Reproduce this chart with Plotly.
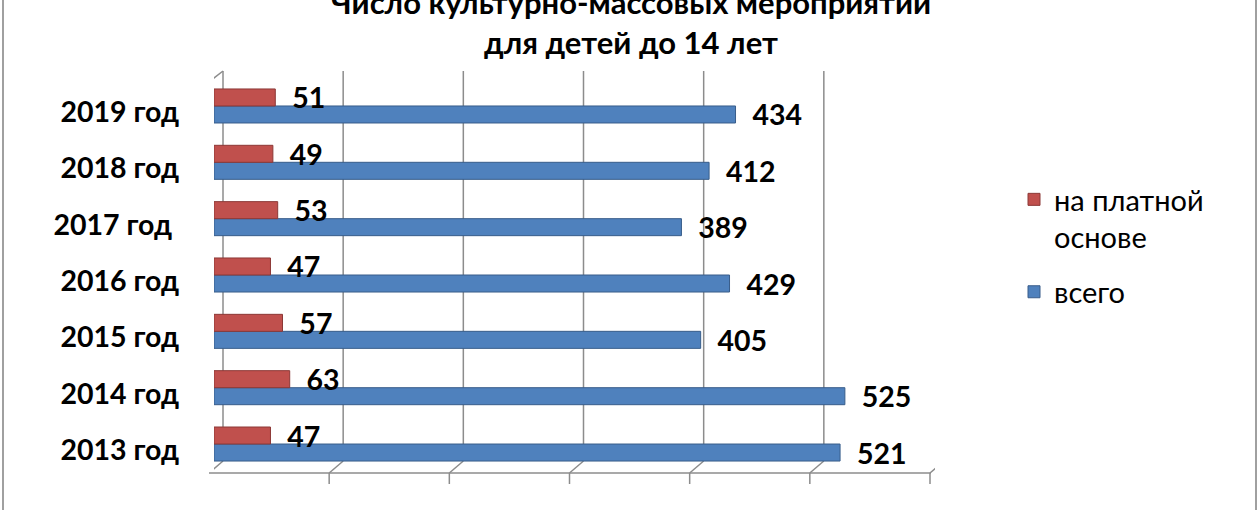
import plotly.graph_objects as go

W, H = 1260, 510

categories = ["2013 год", "2014 год", "2015 год", "2016 год", "2017 год\u00a0", "2018 год", "2019 год"]
paid = [47, 63, 57, 47, 53, 49, 51]
total = [521, 525, 405, 429, 389, 412, 434]
series_names = ["на платной<br>основе", "всего"]
x_ticks = [0, 100, 200, 300, 400, 500, 600]
title_text = "Число культурно-массовых мероприятий<br>для детей до 14 лет"

RED = "#C0504D"
BLUE = "#4F81BD"
GRID = "#8C8C8C"
FONT = "Lato"


def py(p):
    return 1 - p / H


def px(p):
    return p / W


fig = go.Figure()
fig.add_trace(go.Bar(
    y=categories, x=total, orientation="h", name=series_names[1], legendgroup="b", legendrank=2,
    marker=dict(color=BLUE, line=dict(color="#385D8A", width=1)),
    text=["\u00a0\u00a0" + str(v) for v in total], textposition="outside",
    constraintext="none", cliponaxis=False,
    textfont=dict(family=FONT, size=28.5, color="#000000", weight="bold"),
))
fig.add_trace(go.Bar(
    y=categories, x=paid, orientation="h", name=series_names[0], legendgroup="a", legendrank=1,
    marker=dict(color=RED, line=dict(color="#8C3836", width=1)),
    text=["\u00a0\u00a0" + str(v) for v in paid], textposition="outside",
    constraintext="none", cliponaxis=False,
    textfont=dict(family=FONT, size=28.5, color="#000000", weight="bold"),
))

shapes = []
line_style = dict(color=GRID, width=1.5)
back_top, back_bot, front_bot, front_top, tick_bot = 71, 461, 473, 82, 484
BACK, FRONT = 9, -5
for v in x_ticks:
    # back wall gridline
    shapes.append(dict(type="line", xref="x", xsizemode="pixel", xanchor=v, x0=BACK, x1=BACK,
                       yref="paper", y0=py(back_bot), y1=py(back_top), line=line_style, layer="below"))
    # floor diagonal
    shapes.append(dict(type="line", xref="x", xsizemode="pixel", xanchor=v, x0=BACK, x1=FRONT,
                       yref="paper", y0=py(back_bot), y1=py(front_bot), line=line_style, layer="below"))
    # tick mark
    shapes.append(dict(type="line", xref="x", xsizemode="pixel", xanchor=v, x0=FRONT, x1=FRONT,
                       yref="paper", y0=py(front_bot), y1=py(tick_bot), line=line_style, layer="below"))
# front-left edge and its top diagonal
shapes.append(dict(type="line", xref="x", xsizemode="pixel", xanchor=x_ticks[0], x0=FRONT, x1=FRONT,
                   yref="paper", y0=py(front_bot), y1=py(front_top), line=line_style, layer="below"))
shapes.append(dict(type="line", xref="x", xsizemode="pixel", xanchor=x_ticks[0], x0=FRONT, x1=BACK,
                   yref="paper", y0=py(front_top), y1=py(back_top), line=line_style, layer="below"))
# front floor line
shapes.append(dict(type="line", xref="paper", x0=px(209), x1=px(931),
                   yref="paper", y0=py(front_bot), y1=py(front_bot), line=line_style, layer="below"))
# chart border (left/right)
for bx in (3, 1256):
    shapes.append(dict(type="line", xref="paper", x0=px(bx), x1=px(bx), yref="paper", y0=0, y1=1,
                       line=dict(color="#A0A0A0", width=2)))

fig.update_layout(
    width=W, height=H,
    margin=dict(l=0, r=0, t=0, b=0, autoexpand=False),
    paper_bgcolor="white", plot_bgcolor="rgba(0,0,0,0)",
    barmode="group", bargap=0.396, bargroupgap=0,
    font=dict(family=FONT, color="#000000"),
    title=dict(text=title_text, x=px(631), xanchor="center", xref="container",
               y=py(14), yanchor="middle", yref="container",
               font=dict(family=FONT, size=31, color="#000000", weight="bold")),
    xaxis=dict(domain=[px(214), px(935)], range=[0, 600], showgrid=False, zeroline=False,
               showticklabels=False, showline=False, ticks="", automargin=False),
    yaxis=dict(domain=[py(472.2), py(77.8)], range=[-0.5, 6.5], showgrid=False, zeroline=False,
               showline=False, ticks="", ticklabelstandoff=34, ticklabelshift=6, automargin=False,
               tickfont=dict(family=FONT, size=28.5, color="#000000", weight="bold")),
    legend=dict(x=px(1014), y=py(174), xanchor="left", yanchor="top", traceorder="grouped",
                valign="top", tracegroupgap=14, font=dict(family=FONT, size=29, color="#000000"),
                bgcolor="rgba(0,0,0,0)"),
    shapes=shapes,
)

fig.write_html("out.html", config={"displayModeBar": False},
               post_script="document.body.style.margin='0';")
